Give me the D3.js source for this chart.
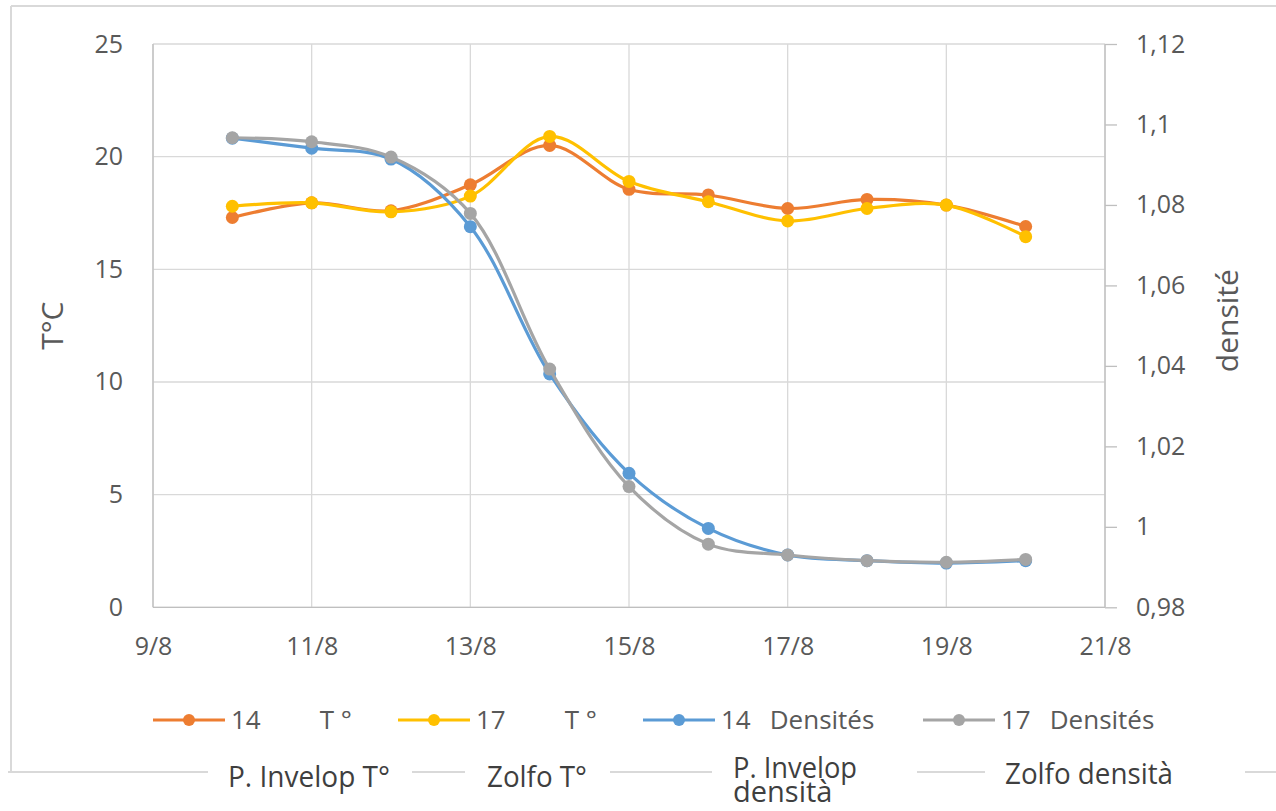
<!DOCTYPE html>
<html><head><meta charset="utf-8">
<script src="https://cdn.jsdelivr.net/npm/d3@7"></script>
<style>
html,body{margin:0;padding:0;background:#fff;}
svg text{font-family:"Open Sans",sans-serif;}
</style></head>
<body><svg id="c" width="1276" height="811"></svg>
<script>
// ---- data ----
const days = [10, 11, 12, 13, 14, 15, 16, 17, 18, 19, 20];
const temp14 = [17.3, 17.95, 17.6, 18.75, 20.5, 18.55, 18.3, 17.7, 18.1, 17.85, 16.9];
const temp17 = [17.8, 17.95, 17.55, 18.25, 20.9, 18.9, 18.0, 17.15, 17.7, 17.85, 16.45];
const dens14 = [1.0966, 1.0941, 1.0914, 1.0746, 1.0380, 1.0133, 0.9996, 0.9930, 0.9916, 0.9910, 0.9916];
const dens17 = [1.0967, 1.0957, 1.0919, 1.0779, 1.0392, 1.0100, 0.9957, 0.9930, 0.9916, 0.9912, 0.9919];
const xTickDays = [9, 11, 13, 15, 17, 19, 21];
const xTickLabels = ["9/8", "11/8", "13/8", "15/8", "17/8", "19/8", "21/8"];
const leftTicks = [0, 5, 10, 15, 20, 25];
const rightTicks = [0.98, 1.00, 1.02, 1.04, 1.06, 1.08, 1.10, 1.12];
const seriesNums = ["14", "17", "14", "17"];
const seriesLabels = ["T °", "T °", "Densités", "Densités"];
const extraLabels = [["P. Invelop T°"], ["Zolfo T°"], ["P. Invelop", "densità"], ["Zolfo densità"]];
const yLeftTitle = "T°C";
const yRightTitle = "densité";

// ---- layout ----
const svg = d3.select("#c");
const L = 153, R = 1105, T = 44, B = 607.3;
const x = d3.scaleLinear().domain([9, 21]).range([L, R]);
const yT = d3.scaleLinear().domain([0, 25]).range([B, T]);
const yD = d3.scaleLinear().domain([0.98, 1.12]).range([B, T]);
const grid = "#d9d9d9", txt = "#595959";

svg.append("rect").attr("width", 1276).attr("height", 811).attr("fill", "#fff");

// outer border (top, left, bottom with gaps)
const bc = "#d9d9d9";
svg.append("line").attr("x1", 11).attr("x2", 1276).attr("y1", 6).attr("y2", 6).attr("stroke", bc).attr("stroke-width", 2);
svg.append("line").attr("x1", 11).attr("x2", 11).attr("y1", 6).attr("y2", 772).attr("stroke", bc).attr("stroke-width", 2);
const bottomSegs = [[8, 208], [412, 465], [610, 712], [917, 985], [1245, 1276]];
bottomSegs.forEach(s => svg.append("line").attr("x1", s[0]).attr("x2", s[1]).attr("y1", 772).attr("y2", 772).attr("stroke", bc).attr("stroke-width", 2));

// gridlines
const g = svg.append("g");
g.selectAll(".hg").data(leftTicks).join("line")
  .attr("x1", L).attr("x2", R).attr("y1", d => yT(d)).attr("y2", d => yT(d))
  .attr("stroke", grid).attr("stroke-width", 1.3);
g.selectAll(".vg").data(xTickDays).join("line")
  .attr("x1", d => x(d)).attr("x2", d => x(d)).attr("y1", T).attr("y2", B)
  .attr("stroke", grid).attr("stroke-width", 1.3);

// axes lines
const ac = "#bfbfbf";
svg.append("line").attr("x1", L).attr("x2", L).attr("y1", T).attr("y2", B).attr("stroke", ac).attr("stroke-width", 1.3);
svg.append("line").attr("x1", L).attr("x2", R).attr("y1", B).attr("y2", B).attr("stroke", ac).attr("stroke-width", 1.3);
svg.append("line").attr("x1", R).attr("x2", R).attr("y1", T).attr("y2", B).attr("stroke", ac).attr("stroke-width", 1.3);

// right axis via d3.axisRight
const ra = svg.append("g").attr("transform", `translate(${R},0)`)
  .call(d3.axisRight(yD).tickValues(rightTicks).tickSize(12).tickPadding(19)
    .tickFormat(d => d3.format("")(+d.toFixed(2)).replace(".", ",")));
ra.select(".domain").remove();
ra.selectAll(".tick line").attr("stroke", ac).attr("stroke-width", 1.3);
ra.selectAll(".tick text").attr("fill", txt).attr("font-size", 25).attr("font-family", "Open Sans");

// left axis
const la = svg.append("g").attr("transform", `translate(${L},0)`)
  .call(d3.axisLeft(yT).tickValues(leftTicks).tickSize(0).tickPadding(30).tickFormat(d3.format("d")));
la.select(".domain").remove();
la.selectAll(".tick text").attr("fill", txt).attr("font-size", 25).attr("font-family", "Open Sans");

// bottom axis
const ba = svg.append("g").attr("transform", `translate(0,${B})`)
  .call(d3.axisBottom(x).tickValues(xTickDays).tickSize(0).tickPadding(30)
    .tickFormat((d, i) => xTickLabels[i]));
ba.select(".domain").remove();
ba.selectAll(".tick text").attr("fill", txt).attr("font-size", 25).attr("font-family", "Open Sans");

// axis titles
svg.append("text").attr("transform", `translate(63,${(T + B) / 2}) rotate(-90)`)
  .attr("text-anchor", "middle").attr("fill", txt).attr("font-size", 30).text(yLeftTitle);
svg.append("text").attr("transform", `translate(1238,${(T + B) / 2 - 5}) rotate(-90)`)
  .attr("text-anchor", "middle").attr("fill", txt).attr("font-size", 30).text(yRightTitle);

// series
const colors = ["#ED7D31", "#FFC000", "#5B9BD5", "#A5A5A5"];
const series = [
  {v: temp14, y: yT}, {v: temp17, y: yT}, {v: dens14, y: yD}, {v: dens17, y: yD}
];
series.forEach((s, i) => {
  const pts = days.map((d, j) => [x(d), s.y(s.v[j])]);
  svg.append("path").attr("d", d3.line().curve(d3.curveCatmullRom.alpha(0.5))(pts))
    .attr("fill", "none").attr("stroke", colors[i]).attr("stroke-width", 3.2).attr("stroke-linecap", "round");
  svg.selectAll(null).data(pts).join("circle")
    .attr("cx", d => d[0]).attr("cy", d => d[1]).attr("r", 6.5).attr("fill", colors[i]);
});

// legend row 1
const legX = [153, 398, 643, 923];
const labelDx = [59, 59, 19, 19];
seriesNums.forEach((n, i) => {
  const lg = svg.append("g").attr("transform", `translate(${legX[i]},720)`);
  lg.append("line").attr("x1", 0).attr("x2", 72).attr("y1", 0).attr("y2", 0)
    .attr("stroke", colors[i]).attr("stroke-width", 3.2);
  lg.append("circle").attr("cx", 36).attr("cy", 0).attr("r", 6).attr("fill", colors[i]);
  const t = lg.append("text").attr("x", 78).attr("y", 9).attr("fill", txt).attr("font-size", 26);
  t.append("tspan").text(n);
  t.append("tspan").attr("dx", labelDx[i]).text(seriesLabels[i]);
});

// legend row 2 (overlay labels)
const ex = [{x: 228, y: 787, w: 162, fs: 30}, {x: 487, y: 787, w: 100, fs: 30},
            {x: 733, y: 778, w: 124, fs: 29}, {x: 1005, y: 784, w: 168, fs: 30}];
extraLabels.forEach((lines, i) => {
  const t = svg.append("text").attr("x", ex[i].x).attr("y", ex[i].y)
    .attr("fill", "#3f3f3f").attr("font-size", ex[i].fs);
  lines.forEach((s, k) => {
    const ts = t.append("tspan").attr("x", ex[i].x).attr("dy", k === 0 ? 0 : 24).text(s);
    if (k === 0) ts.attr("textLength", ex[i].w).attr("lengthAdjust", "spacingAndGlyphs");
  });
});
</script></body></html>
